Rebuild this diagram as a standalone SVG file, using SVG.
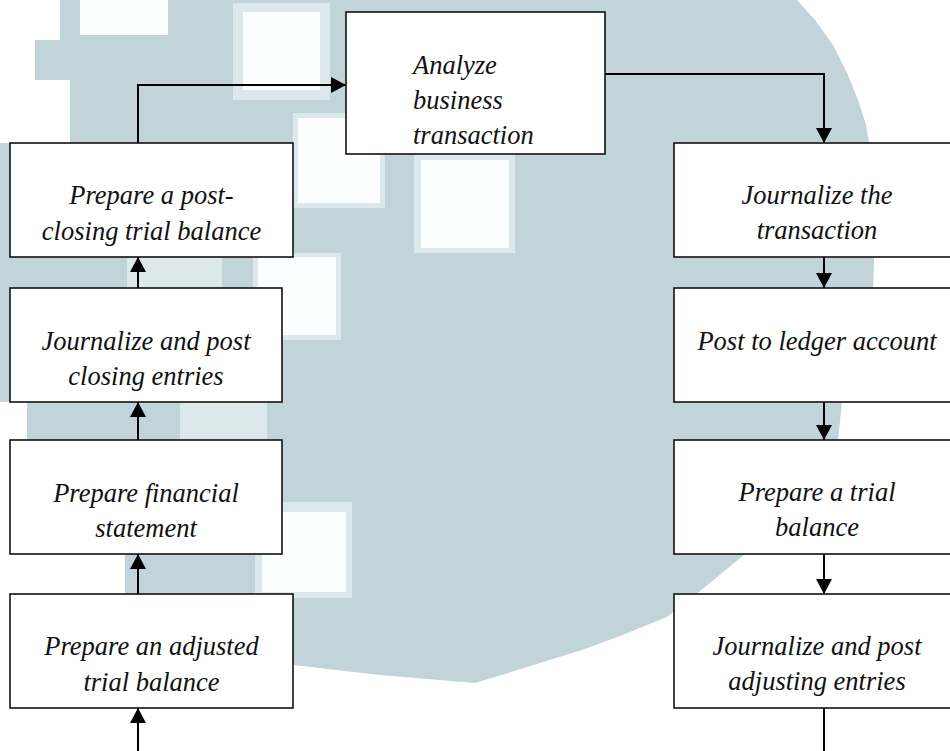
<svg xmlns="http://www.w3.org/2000/svg" width="950" height="751" viewBox="0 0 950 751">
  <style>
    .box { fill: #ffffff; stroke: #111111; stroke-width: 1.6; }
    .lbl { font-family: "Liberation Serif", "Times New Roman", serif; font-style: italic; font-size: 26.5px; fill: #111111; }
    .mid { text-anchor: middle; }
    .conn { fill: none; stroke: #000000; stroke-width: 2; }
    .wm { fill: #c1d4da; }
    .halo { fill: #dde8ec; }
    .hole { fill: #fbfdfe; }
  </style>
  <defs>
    <marker id="ah" viewBox="0 0 15 16" refX="15" refY="8" markerWidth="15" markerHeight="16" orient="auto" markerUnits="userSpaceOnUse">
      <path d="M0,0 L15,8 L0,16 Z" fill="#000000"/>
    </marker>
  </defs>
  <rect x="0" y="0" width="950" height="751" fill="#ffffff"/>
  <g id="watermark">
    <path class="wm" d="M60,0 L797,0 L815,20 L833,45 L848,75 L858,100 L866,125 L872,160 L876,210 L874,260 L873,290 L862,340 L850,380 L842,402 L838,440 L810,480 L780,520 L745,554 L710,583 L667,617 L620,636 L582,650 L540,663 L508,673 L475,683 L380,675 L293,665 L200,640 L125,600 L125,554 L27,554 L27,402 L0,402 L0,143 L70,143 L70,80 L35,80 L35,40 L60,40 Z"/>
    <rect class="hole" x="80" y="0" width="88" height="35"/>
    <rect class="halo" x="233" y="3" width="97" height="97"/>
    <rect class="hole" x="243" y="12" width="77" height="78"/>
    <rect class="halo" x="293" y="113" width="92" height="95"/>
    <rect class="hole" x="298" y="118" width="82" height="85"/>
    <rect class="halo" x="414" y="153" width="101" height="100"/>
    <rect class="hole" x="421" y="160" width="88" height="88"/>
    <rect class="halo" x="253" y="253" width="88" height="87"/>
    <rect class="hole" x="258" y="257" width="78" height="78"/>
    <rect class="halo" x="255" y="502" width="97" height="96"/>
    <rect class="hole" x="262" y="512" width="84" height="80"/>
    <rect class="halo" x="127" y="257" width="95" height="31"/>
    <rect class="halo" x="180" y="402" width="87" height="38"/>
  </g>
  <g id="connectors">
    <path class="conn" d="M138,143 V85 H346" marker-end="url(#ah)"/>
    <path class="conn" d="M605,74 H824 V143" marker-end="url(#ah)"/>
    <path class="conn" d="M824,257 V288" marker-end="url(#ah)"/>
    <path class="conn" d="M824,402 V440" marker-end="url(#ah)"/>
    <path class="conn" d="M824,554 V594" marker-end="url(#ah)"/>
    <path class="conn" d="M824,708 V751"/>
    <path class="conn" d="M138,288 V257" marker-end="url(#ah)"/>
    <path class="conn" d="M138,440 V402" marker-end="url(#ah)"/>
    <path class="conn" d="M138,594 V554" marker-end="url(#ah)"/>
    <path class="conn" d="M138,751 V708" marker-end="url(#ah)"/>
  </g>
  <g id="analyze">
    <rect class="box" x="346" y="12" width="259" height="142"/>
    <text class="lbl" x="413" y="74">Analyze</text>
    <text class="lbl" x="413" y="109">business</text>
    <text class="lbl" x="413" y="144">transaction</text>
  </g>
  <g id="post-closing-trial">
    <rect class="box" x="10" y="143" width="283" height="114"/>
    <text class="lbl mid" x="151.5" y="204">Prepare a post-</text>
    <text class="lbl mid" x="151.5" y="240">closing trial balance</text>
  </g>
  <g id="closing-entries">
    <rect class="box" x="10" y="288" width="272" height="114"/>
    <text class="lbl mid" x="146" y="350">Journalize and post</text>
    <text class="lbl mid" x="146" y="385">closing entries</text>
  </g>
  <g id="financial-statement">
    <rect class="box" x="10" y="440" width="272" height="114"/>
    <text class="lbl mid" x="146" y="502">Prepare financial</text>
    <text class="lbl mid" x="146" y="537">statement</text>
  </g>
  <g id="adjusted-trial">
    <rect class="box" x="10" y="594" width="283" height="114"/>
    <text class="lbl mid" x="151.5" y="655">Prepare an adjusted</text>
    <text class="lbl mid" x="151.5" y="691">trial balance</text>
  </g>
  <g id="journalize">
    <rect class="box" x="674" y="143" width="290" height="114"/>
    <text class="lbl mid" x="817" y="204">Journalize the</text>
    <text class="lbl mid" x="817" y="239">transaction</text>
  </g>
  <g id="ledger">
    <rect class="box" x="674" y="288" width="290" height="114"/>
    <text class="lbl mid" x="817" y="350">Post to ledger account</text>
  </g>
  <g id="trial-balance">
    <rect class="box" x="674" y="440" width="290" height="114"/>
    <text class="lbl mid" x="817" y="501">Prepare a trial</text>
    <text class="lbl mid" x="817" y="536">balance</text>
  </g>
  <g id="adjusting-entries">
    <rect class="box" x="674" y="594" width="290" height="114"/>
    <text class="lbl mid" x="817" y="655">Journalize and post</text>
    <text class="lbl mid" x="817" y="690">adjusting entries</text>
  </g>
</svg>
